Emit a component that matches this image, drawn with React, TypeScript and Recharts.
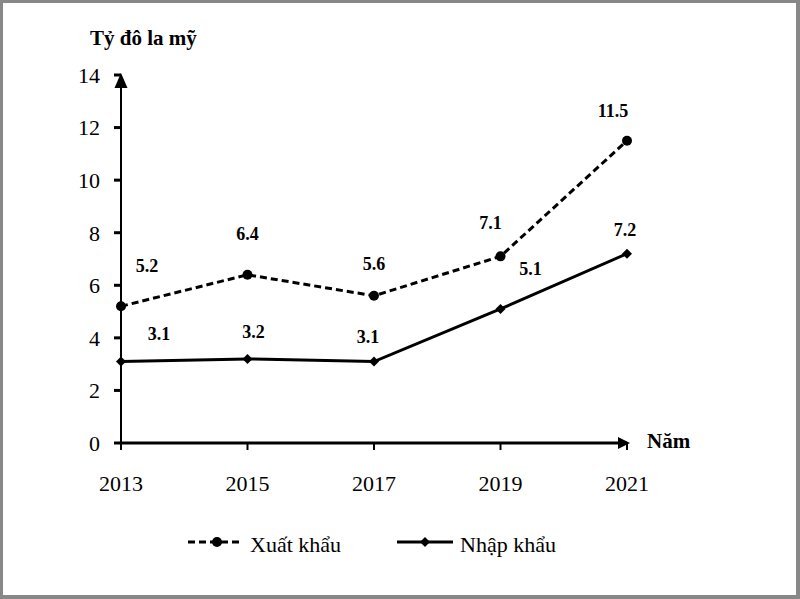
import React from 'react';
import { LineChart, Line, XAxis, YAxis, LabelList } from 'recharts';

const years = ['2013', '2015', '2017', '2019', '2021'];
const exportValues = [5.2, 6.4, 5.6, 7.1, 11.5];
const importValues = [3.1, 3.2, 3.1, 5.1, 7.2];
const yTicks = [0, 2, 4, 6, 8, 10, 12, 14];

const exportName = 'Xuất khẩu';
const importName = 'Nhập khẩu';
const yTitle = 'Tỷ đô la mỹ';
const xTitle = 'Năm';

// label placement offsets (style only)
const exportLabelOffsets = [[26, -40], [0, -41], [0, -32], [-10, -33], [-14, -30]];
const importLabelOffsets = [[38, -28], [6, -27], [-6, -25], [30, -40], [-2, -24]];

const data = years.map((y, i) => ({ year: y, xk: exportValues[i], nk: importValues[i] }));

const FONT = 'Liberation Serif, Times New Roman, serif';

const CircleDot = (props: any) => {
  const { cx, cy } = props;
  if (cx == null || cy == null) return null;
  return <circle cx={cx} cy={cy} r={5} fill="#000" />;
};

const DiamondDot = (props: any) => {
  const { cx, cy } = props;
  if (cx == null || cy == null) return null;
  const s = 5;
  return <path d={`M${cx - s},${cy} L${cx},${cy - s} L${cx + s},${cy} L${cx},${cy + s} Z`} fill="#000" />;
};

const makeLabel = (offsets: number[][], values: number[]) => (props: any) => {
  const { x, y, index } = props;
  const o = offsets[index] || [0, -30];
  return (
    <text
      x={x + o[0]}
      y={y + o[1] + 6}
      textAnchor="middle"
      style={{ fontFamily: FONT, fontSize: 18, fontWeight: 'bold' }}
      fill="#000"
    >
      {values[index].toFixed(1)}
    </text>
  );
};

const tickStyle = { fill: '#000', fontFamily: FONT, fontSize: 22, style: { fontFamily: FONT } };

export default function App() {
  return (
    <div
      style={{
        position: 'fixed',
        left: 0,
        top: 0,
        width: 800,
        height: 599,
        background: '#fff',
        boxSizing: 'border-box',
        borderStyle: 'solid',
        borderColor: '#888',
        borderWidth: '3px 4px 4px 3px',
        overflow: 'hidden',
        fontFamily: FONT,
      }}
    >
      <svg width={0} height={0} style={{ position: 'absolute' }}>
        <defs>
          <marker
            id="arrowX"
            markerUnits="userSpaceOnUse"
            markerWidth={14}
            markerHeight={14}
            refX={9}
            refY={6}
            orient="auto"
            overflow="visible"
          >
            <path d="M0,0 L12,6 L0,12 Z" fill="#000" />
          </marker>
          <marker
            id="arrowY"
            markerUnits="userSpaceOnUse"
            markerWidth={16}
            markerHeight={14}
            refX={13}
            refY={6.5}
            orient="auto-start-reverse"
            overflow="visible"
          >
            <path d="M0,0 L15,6.5 L0,13 Z" fill="#000" />
          </marker>
        </defs>
      </svg>
      <div style={{ position: 'absolute', left: -3, top: -3 }}>
        <LineChart
          width={800}
          height={599}
          data={data}
          margin={{ top: 75, right: 173, bottom: 96, left: 61 }}
          style={{ fontFamily: FONT }}
        >
          <XAxis
            dataKey="year"
            height={60}
            axisLine={{ stroke: '#000', strokeWidth: 3, markerEnd: 'url(#arrowX)' } as any}
            tickLine={{ stroke: '#000', strokeWidth: 2 }}
            tickSize={7}
            tickMargin={25}
            tick={tickStyle as any}
            interval={0}
          />
          <YAxis
            width={60}
            domain={[0, 14]}
            ticks={yTicks}
            interval={0}
            axisLine={{ stroke: '#000', strokeWidth: 2, markerStart: 'url(#arrowY)' } as any}
            tickLine={{ stroke: '#000', strokeWidth: 3 }}
            tickSize={7}
            tickMargin={14}
            tick={tickStyle as any}
          />
          <Line
            type="linear"
            dataKey="xk"
            name={exportName}
            stroke="#000"
            strokeWidth={3}
            strokeDasharray="7 4"
            dot={<CircleDot />}
            activeDot={false}
            isAnimationActive={false}
          >
            <LabelList dataKey="xk" content={makeLabel(exportLabelOffsets, exportValues)} />
          </Line>
          <Line
            type="linear"
            dataKey="nk"
            name={importName}
            stroke="#000"
            strokeWidth={3}
            dot={<DiamondDot />}
            activeDot={false}
            isAnimationActive={false}
          >
            <LabelList dataKey="nk" content={makeLabel(importLabelOffsets, importValues)} />
          </Line>
        </LineChart>
      </div>
      <svg
        width={800}
        height={599}
        style={{ position: 'absolute', left: -3, top: -3, pointerEvents: 'none', fontFamily: FONT }}
      >
        <text x={90} y={45} style={{ fontFamily: FONT, fontSize: 21, fontWeight: 'bold' }} fill="#000">
          {yTitle}
        </text>
        <text x={647} y={448} style={{ fontFamily: FONT, fontSize: 21, fontWeight: 'bold' }} fill="#000">
          {xTitle}
        </text>
        <g>
          <line x1={188} y1={542} x2={242} y2={542} stroke="#000" strokeWidth={3} strokeDasharray="7 4" />
          <circle cx={217} cy={542} r={5} fill="#000" />
          <text x={250} y={552} style={{ fontFamily: FONT, fontSize: 22 }} fill="#000">
            {exportName}
          </text>
          <line x1={397} y1={542} x2={453} y2={542} stroke="#000" strokeWidth={3} />
          <path d="M420,542 L425,537 L430,542 L425,547 Z" fill="#000" />
          <text x={460} y={552} style={{ fontFamily: FONT, fontSize: 22 }} fill="#000">
            {importName}
          </text>
        </g>
      </svg>
    </div>
  );
}
